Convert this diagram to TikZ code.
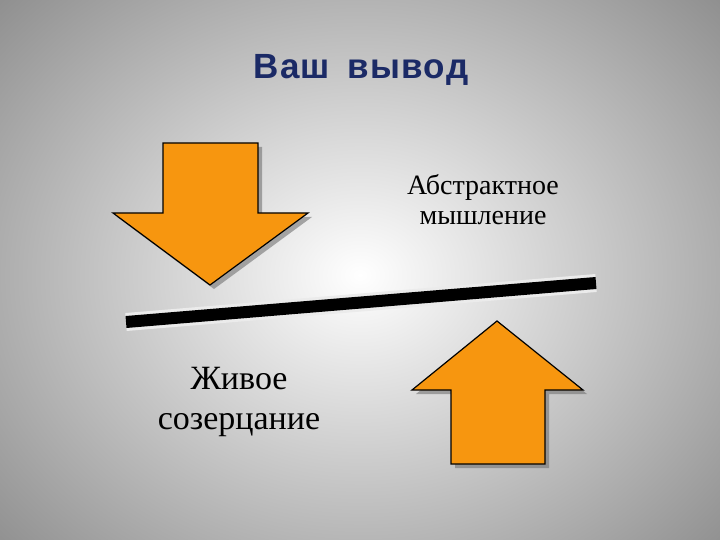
\documentclass[tikz,border=0pt]{standalone}
\usepackage{fontspec}
\setmainfont{Liberation Serif}
\newfontfamily\titlefont[LetterSpace=4]{Liberation Sans}
\definecolor{arrowor}{HTML}{F7960F}
\definecolor{titleblue}{HTML}{1B2A66}
\begin{document}
\begin{tikzpicture}[x=1pt,y=-1pt,
  arr/.style={fill=arrowor,draw=black,line width=1.2pt,line join=miter},
  shad/.style={fill=black!55,opacity=0.6},
  lbl/.style={font=\fontsize{28}{30}\selectfont,align=center},
  lblbig/.style={font=\fontsize{34}{40}\selectfont,align=center}]
\useasboundingbox (0,0) rectangle (720,540);
\shade[inner color=white,outer color=black!48] (-180,-170) rectangle (900,720);
% title
\node[font=\titlefont\bfseries\fontsize{35}{40}\selectfont,text=titleblue] (title) at (361,70) {Ваш\hspace{6pt} вывод};
% down arrow
\fill[shad,shift={(4,4)}] (163,143) -- (258,143) -- (258,213) -- (308,213) -- (210,285) -- (113,213) -- (163,213) -- cycle;
\draw[arr] (163,143) -- (258,143) -- (258,213) -- (308,213) -- (210,285) -- (113,213) -- (163,213) -- cycle;
% up arrow
\fill[shad,shift={(4,4)}] (451,464) -- (545,464) -- (545,390) -- (583,390) -- (497,321) -- (412,390) -- (451,390) -- cycle;
\draw[arr] (451,464) -- (545,464) -- (545,390) -- (583,390) -- (497,321) -- (412,390) -- (451,390) -- cycle;
% beam
\coordinate (bl) at (126,322);
\coordinate (br) at (596,283);
\draw[line width=18pt,white!92!black] (bl) -- (br);
\draw[line width=12pt,black] (bl) -- (br);
% labels
\node[lbl] (abs) at (483,200) {Абстрактное\\мышление};
\node[lblbig] (live) at (239,402) {Живое\\созерцание};
\end{tikzpicture}
\end{document}
